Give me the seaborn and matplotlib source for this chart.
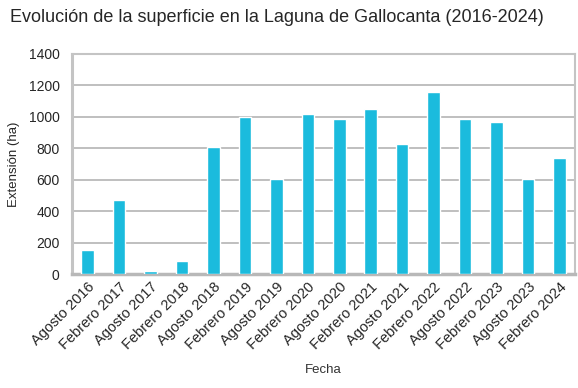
import matplotlib
matplotlib.use("Agg")
import matplotlib.pyplot as plt
import seaborn as sns
import pandas as pd

# Fechas de las imágenes y superficie estimada (ha)
fechas = ["Agosto 2016", "Febrero 2017", "Agosto 2017", "Febrero 2018",
          "Agosto 2018", "Febrero 2019", "Agosto 2019", "Febrero 2020",
          "Agosto 2020", "Febrero 2021", "Agosto 2021", "Febrero 2022",
          "Agosto 2022", "Febrero 2023", "Agosto 2023", "Febrero 2024"]
extension = [150, 468, 20, 85, 805, 997, 605, 1020,
             985, 1049, 826, 1160, 985, 970, 607, 735]
yticks = [0, 200, 400, 600, 800, 1000, 1200, 1400]

df = pd.DataFrame({"Fecha": fechas, "Extension": extension})

sns.set_style("white")
plt.rcParams['font.family'] = ['Liberation Sans', 'DejaVu Sans']

fig = plt.figure(figsize=(5.78, 3.88), dpi=100)
ax = fig.add_axes([0.1246, 0.2938, 0.8704, 0.5672])

sns.barplot(data=df, x="Fecha", y="Extension", color="#1BBBDD",
            saturation=1, width=0.4, ax=ax, zorder=3)

ax.set_ylim(0, 1400)
ax.set_yticks(yticks)
ax.set_xlim(-0.5, len(fechas) - 0.5)
ax.yaxis.grid(True, color="#B4B4B4", linewidth=1.2, zorder=0)
ax.set_axisbelow(True)

for side in ["left", "top", "right"]:
    ax.spines[side].set_color("#C4C4C4")
    ax.spines[side].set_linewidth(1.5)
ax.spines["left"].set_linewidth(2.2)
ax.spines["bottom"].set_color("#B8B8B8")
ax.spines["bottom"].set_linewidth(2.5)

ax.tick_params(axis="y", labelsize=10, length=0, pad=9)
ax.tick_params(axis="x", labelsize=10.5, length=0, pad=4)
plt.setp(ax.get_xticklabels(), rotation=45, ha="right", rotation_mode="anchor")

ax.set_xlabel("Fecha", fontsize=9.5, color="#333333", labelpad=9)
ax.set_ylabel("Extensión (ha)", fontsize=9.5, labelpad=6)

fig.text(0.017, 0.955, "Evolución de la superficie en la Laguna de Gallocanta (2016-2024)",
         fontsize=13, va="center", ha="left")

fig.savefig("out.png", dpi=100)
